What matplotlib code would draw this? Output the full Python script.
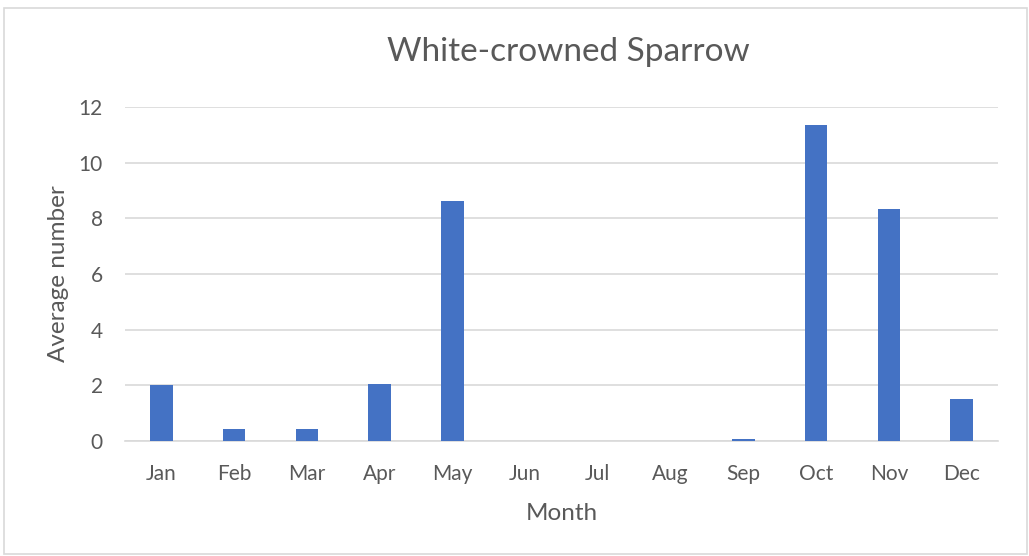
import matplotlib.pyplot as plt
from matplotlib.patches import Rectangle

months = ['Jan', 'Feb', 'Mar', 'Apr', 'May', 'Jun', 'Jul', 'Aug', 'Sep', 'Oct', 'Nov', 'Dec']
avg_number = [2.0, 0.43, 0.43, 2.04, 8.62, 0, 0, 0, 0.06, 11.34, 8.34, 1.5]
y_ticks = [0, 2, 4, 6, 8, 10, 12]

plt.rcParams['font.family'] = ['Lato', 'DejaVu Sans']
text_color = '#595959'

fig = plt.figure(figsize=(10.29, 5.56), dpi=100)
fig.patches.append(Rectangle((4 / 1029, 2 / 556), 1023 / 1029, 546 / 556,
                             transform=fig.transFigure, fill=False,
                             edgecolor='#D9D9D9', linewidth=1.2))

ax = fig.add_axes([125 / 1029, 1 - 441 / 556, 873 / 1029, 334 / 556])
ax.bar(range(len(months)), avg_number, width=0.31, color='#4472C4', zorder=3)

ax.set_xlim(-0.5, len(months) - 0.5)
ax.set_ylim(0, 12)
ax.set_yticks(y_ticks)
ax.set_xticks(range(len(months)))
ax.set_xticklabels(months)
ax.yaxis.grid(True, color='#D9D9D9', linewidth=1.2, zorder=0)
for s in ['top', 'right', 'left']:
    ax.spines[s].set_visible(False)
ax.spines['bottom'].set_color('#D9D9D9')
ax.spines['bottom'].set_linewidth(1.2)
ax.tick_params(length=0, labelsize=15, colors=text_color)
ax.tick_params(axis='x', pad=16.5)
ax.tick_params(axis='y', pad=16)

ax.set_xlabel('Month', fontsize=17.5, color=text_color, labelpad=14)
ax.set_ylabel('Average number', fontsize=17.5, color=text_color, labelpad=7)
fig.text(0.5525, 1 - 52 / 556, 'White-crowned Sparrow', ha='center', va='center',
         fontsize=24, color=text_color)

plt.savefig('out.png', dpi=100)
